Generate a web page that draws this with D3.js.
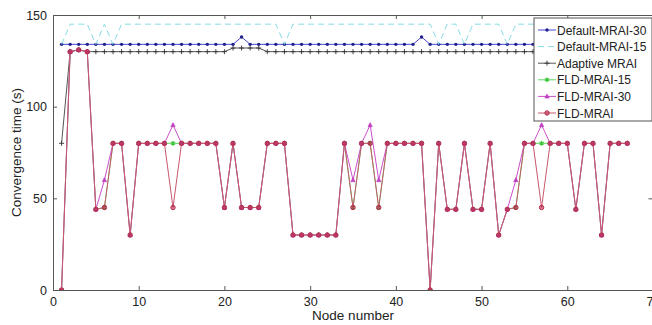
<!DOCTYPE html>
<html>
<head>
<meta charset="utf-8">
<script src="https://cdn.jsdelivr.net/npm/d3@7"></script>
<style>
  body { margin: 0; background: #fff; }
  svg text { font-family: "Liberation Sans", Arial, sans-serif; fill: #222; }
</style>
</head>
<body>
<figure id="conv" style="margin:0"></figure>
<script>
// node numbers on the x axis
const nodes = d3.range(1, 68);

const defaultMrai30 = [134,134,134,134,134,134,134,134,134,134, 134,134,134,134,134,134,134,134,134,134,
  134,138,134,134,134,134,134,134,134,134, 134,134,134,134,134,134,134,134,134,134,
  134,134,138,134,134,134,134,134,134,134, 134,134,134,134,134,134,134,134,134,134,
  134,134,134,134,134,134,134];
const defaultMrai15 = [134,145,145,145,134,145,134,145,145,145, 145,145,145,145,145,145,145,145,145,145,
  145,145,145,145,145,145,134,145,145,145, 145,145,145,145,145,145,145,145,145,145,
  145,145,145,145,134,145,145,134,145,145, 145,145,134,145,145,145,145,145,145,145,
  145,145,145,145,145,145,145];
const adaptiveMrai = [80,130,131,130,130,130,130,130,130,130, 130,130,130,130,130,130,130,130,130,130,
  132,132,132,132,130,130,130,130,130,130, 130,130,130,130,130,130,130,130,130,130,
  130,130,130,130,130,130,130,130,130,130, 130,130,130,130,130,130,130,130,130,130,
  130,130,130,130,130,130,130];
const fldMrai15 = [0,130,131,130,44,45,80,80,30,80, 80,80,80,80,80,80,80,80,80,45,
  80,45,45,45,80,80,80,30,30,30, 30,30,30,80,45,80,80,45,80,80,
  80,80,80,0,80,44,44,80,44,44, 80,30,44,45,80,80,80,80,80,80,
  44,80,80,30,80,80,80];
const fldMrai30 = [0,130,131,130,44,60,80,80,30,80, 80,80,80,90,80,80,80,80,80,45,
  80,45,45,45,80,80,80,30,30,30, 30,30,30,80,60,80,90,60,80,80,
  80,80,80,0,80,44,44,80,44,44, 80,30,44,60,80,80,90,80,80,80,
  44,80,80,30,80,80,80];
const fldMrai = [0,130,131,130,44,45,80,80,30,80, 80,80,80,45,80,80,80,80,80,45,
  80,45,45,45,80,80,80,30,30,30, 30,30,30,80,45,80,80,45,80,80,
  80,80,80,0,80,44,44,80,44,44, 80,30,44,45,80,80,45,80,80,80,
  44,80,80,30,80,80,80];

const xTicks = [0, 10, 20, 30, 40, 50, 60, 70];
const yTicks = [0, 50, 100, 150];

const series = [
  { name: "Default-MRAI-30", values: defaultMrai30, color: "#4848d8", mark: "#20208a", marker: "dot", dash: null },
  { name: "Default-MRAI-15", values: defaultMrai15, color: "#86dbe6", mark: "#86dbe6", marker: "none", dash: "6,4" },
  { name: "Adaptive MRAI", values: adaptiveMrai, color: "#555", mark: "#333", marker: "plus", dash: null },
  { name: "FLD-MRAI-15", values: fldMrai15, color: "#5cd65c", mark: "#3cc43c", marker: "star", dash: null },
  { name: "FLD-MRAI-30", values: fldMrai30, color: "#cc4fcc", mark: "#c040c0", marker: "tri", dash: null },
  { name: "FLD-MRAI", values: fldMrai, color: "#c8586e", mark: "#b82a4c", marker: "circle", dash: null }
];

const width = 652, height = 325;
const margin = { top: 15, right: -1, bottom: 35, left: 53 };

const svg = d3.select("#conv").append("svg")
  .attr("width", width)
  .attr("height", height);

const x = d3.scaleLinear().domain([0, 70]).range([margin.left, width - margin.right]);
const y = d3.scaleLinear().domain([0, 150]).range([height - margin.bottom, margin.top]);

const plot = svg.append("g");

// clip so the lines stay inside the box
svg.append("clipPath").attr("id", "clip")
  .append("rect")
  .attr("x", x(0)).attr("y", y(150))
  .attr("width", x(70) - x(0)).attr("height", y(0) - y(150));

const lines = plot.append("g").attr("clip-path", "url(#clip)");

series.forEach(s => {
  const pts = nodes.map((n, i) => [n, s.values[i]]);
  const line = d3.line().x(d => x(d[0])).y(d => y(d[1]));
  lines.append("path")
    .datum(pts)
    .attr("d", line)
    .attr("fill", "none")
    .attr("stroke", s.color)
    .attr("stroke-width", 1)
    .attr("stroke-dasharray", s.dash);
  drawMarkers(lines, pts.map(d => [x(d[0]), y(d[1])]), s);
});

function drawMarkers(g, pts, s) {
  const m = g.append("g");
  pts.forEach(p => addMarker(m, p[0], p[1], s));
}

function addMarker(m, px, py, s) {
  if (s.marker === "dot") {
    m.append("circle").attr("cx", px).attr("cy", py).attr("r", 1.7).attr("fill", s.mark);
  } else if (s.marker === "plus") {
    m.append("path").attr("d", `M${px - 2.5},${py}H${px + 2.5}M${px},${py - 2.5}V${py + 2.5}`)
      .attr("stroke", s.mark).attr("stroke-width", 0.9);
  } else if (s.marker === "star") {
    m.append("path").attr("d", d3.symbol(d3.symbolAsterisk, 16)())
      .attr("transform", `translate(${px},${py})`)
      .attr("stroke", s.mark).attr("stroke-width", 1.2).attr("fill", "none");
  } else if (s.marker === "tri") {
    m.append("path").attr("d", `M${px},${py - 2.4}L${px + 2.2},${py + 1.7}L${px - 2.2},${py + 1.7}Z`)
      .attr("fill", s.mark).attr("stroke", s.mark).attr("stroke-width", 0.6);
  } else if (s.marker === "circle") {
    m.append("circle").attr("cx", px).attr("cy", py).attr("r", 2.2)
      .attr("fill", s.mark).attr("fill-opacity", 0.6)
      .attr("stroke", s.mark).attr("stroke-width", 1);
  }
}

// axes, ticks pointing inward like matlab
const axBottom = svg.append("g").attr("transform", `translate(0,${y(0)})`)
  .call(d3.axisBottom(x).tickValues(xTicks).tickSizeInner(-4).tickSizeOuter(0).tickPadding(7));
const axTop = svg.append("g").attr("transform", `translate(0,${y(150)})`)
  .call(d3.axisTop(x).tickValues(xTicks).tickSizeInner(-4).tickSizeOuter(0).tickFormat(""));
const axLeft = svg.append("g").attr("transform", `translate(${x(0)},0)`)
  .call(d3.axisLeft(y).tickValues(yTicks).tickSizeInner(-4).tickSizeOuter(0).tickPadding(6));
const axRight = svg.append("g").attr("transform", `translate(${x(70) - 0.5},0)`)
  .call(d3.axisRight(y).tickValues(yTicks).tickSizeInner(-4).tickSizeOuter(0).tickFormat(""));

[axBottom, axTop, axLeft, axRight].forEach(a => {
  a.select(".domain").attr("stroke", "#555");
  a.selectAll(".tick line").attr("stroke", "#555");
  a.selectAll("text").style("font-size", "12.5px").attr("fill", "#222");
});

svg.append("text")
  .attr("x", (x(0) + x(70)) / 2)
  .attr("y", 320)
  .attr("text-anchor", "middle")
  .style("font-size", "13.5px")
  .text("Node number");

svg.append("text")
  .attr("transform", `translate(21,${(y(0) + y(150)) / 2}) rotate(-90)`)
  .attr("text-anchor", "middle")
  .style("font-size", "13.5px")
  .text("Convergence time (s)");

// legend box top right
const lg = svg.append("g").attr("transform", "translate(534,18)");
lg.append("rect").attr("width", 118).attr("height", 103)
  .attr("fill", "#fff").attr("stroke", "#555").attr("stroke-width", 1);

series.forEach((s, i) => {
  const ly = 12 + i * 16.6;
  lg.append("line")
    .attr("x1", 4).attr("x2", 22).attr("y1", ly).attr("y2", ly)
    .attr("stroke", s.color).attr("stroke-dasharray", s.dash);
  addMarker(lg, 13, ly, s);
  lg.append("text")
    .attr("class", "lgtext")
    .attr("x", 23).attr("y", ly + 4.5)
    .style("font-size", "12px")
    .text(s.name);
});

// the reference font is narrower, squeeze the legend labels so the longest fits
const longest = d3.max(lg.selectAll(".lgtext").nodes(), n => n.getComputedTextLength());
const fit = 90;
if (longest > fit) {
  const k = fit / longest;
  lg.selectAll(".lgtext").each(function () {
    const t = d3.select(this);
    const tx = +t.attr("x"), ty = +t.attr("y");
    t.attr("x", 0).attr("y", 0)
      .attr("transform", `translate(${tx},${ty}) scale(${k},1.05)`);
  });
}
</script>
</body>
</html>
